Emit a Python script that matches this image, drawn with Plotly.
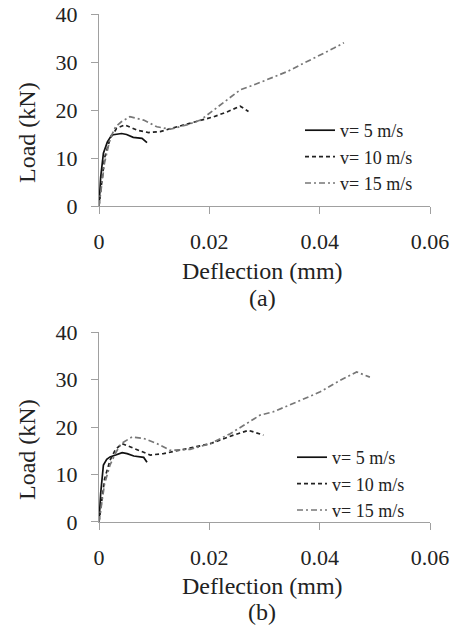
import plotly.graph_objects as go

# ---- Data: panel (a) ----
a_x5 = [0, 0.0003, 0.0008, 0.0015, 0.0023, 0.0032, 0.0041, 0.005, 0.0062, 0.0078, 0.0087]
a_y5 = [0, 6.0, 11.0, 13.3, 14.8, 15.0, 15.1, 14.9, 14.3, 14.1, 13.2]
a_x10 = [0, 0.0005, 0.001, 0.002, 0.0032, 0.0047, 0.0069, 0.009, 0.0111, 0.0132, 0.0159, 0.0184,
         0.0208, 0.0232, 0.0256, 0.0271]
a_y10 = [0, 5.0, 10.0, 14.0, 16.2, 16.9, 15.8, 15.3, 15.5, 16.2, 17.1, 17.8, 18.6, 19.6, 20.8, 19.7]
a_x15 = [0, 0.0005, 0.001, 0.002, 0.003, 0.004, 0.0056, 0.0081, 0.0105, 0.0129, 0.0159, 0.0184,
         0.0208, 0.0232, 0.0256, 0.028, 0.0305, 0.0341, 0.0365, 0.0396, 0.0426, 0.0444]
a_y15 = [0, 4.5, 9.0, 14.0, 16.5, 17.5, 18.6, 17.9, 16.5, 16.0, 16.9, 17.9, 20.0, 22.1, 24.2,
         25.2, 26.4, 28.0, 29.4, 31.1, 32.9, 34.0]

# ---- Data: panel (b) ----
b_x5 = [0, 0.0003, 0.0008, 0.0014, 0.002, 0.0042, 0.0051, 0.0063, 0.0081, 0.0087]
b_y5 = [0, 6.0, 12.0, 13.2, 13.7, 14.6, 14.4, 13.9, 13.6, 12.6]
b_x10 = [0, 0.0005, 0.001, 0.002, 0.003, 0.0042, 0.0063, 0.0093, 0.0117, 0.0147, 0.0184, 0.0202,
         0.0244, 0.0271, 0.0298]
b_y10 = [0, 4.5, 9.0, 13.0, 15.3, 16.5, 15.5, 14.1, 14.4, 15.1, 16.0, 16.5, 18.3, 19.3, 18.3]
b_x15 = [0, 0.0005, 0.001, 0.002, 0.003, 0.004, 0.006, 0.0081, 0.0105, 0.0129, 0.0165, 0.0202,
         0.0238, 0.0292, 0.0316, 0.0365, 0.0401, 0.0437, 0.0467, 0.0491]
b_y15 = [0, 4.0, 8.0, 12.0, 14.5, 16.5, 17.9, 17.6, 16.5, 15.1, 15.3, 16.5, 18.6, 22.5, 23.2,
         25.6, 27.4, 29.8, 31.6, 30.5]

names = ["v= 5 m/s", "v= 10 m/s", "v= 15 m/s"]
x_ticks = [0, 0.02, 0.04, 0.06]
x_ticktext = ["0", "0.02", "0.04", "0.06"]
y_ticks = [0, 10, 20, 30, 40]

SERIF = "Liberation Serif"
styles = [
    dict(color="#111111", width=1.7, dash="solid"),
    dict(color="#222222", width=1.7, dash="4px,3px"),
    dict(color="#777777", width=1.7, dash="6px,3px,2px,3px"),
]

fig = go.Figure()
panels = [
    ("x", "y", "legend", [(a_x5, a_y5), (a_x10, a_y10), (a_x15, a_y15)]),
    ("x2", "y2", "legend2", [(b_x5, b_y5), (b_x10, b_y10), (b_x15, b_y15)]),
]
for xa, ya, lg, series in panels:
    for (xs, ys), nm, st in zip(series, names, styles):
        fig.add_trace(go.Scatter(x=xs, y=ys, mode="lines", name=nm, line=st,
                                 xaxis=xa, yaxis=ya, legend=lg))

axis_common = dict(
    showgrid=False, zeroline=False, showline=True, linecolor="#a0a0a0", linewidth=1,
    ticks="outside", ticklen=7, tickcolor="#a0a0a0", tickwidth=1,
    tickfont=dict(family=SERIF, size=22, color="#222222"),
    ticklabelstandoff=9, automargin=False,
)

leg_font = dict(family=SERIF, size=18, color="#222222")
fig.update_layout(
    width=459, height=626,
    margin=dict(l=99, r=29, t=14, b=104, autoexpand=False),
    paper_bgcolor="white", plot_bgcolor="white",
    xaxis=dict(domain=[0, 1], anchor="y", range=[0, 0.06], tickvals=x_ticks,
               ticktext=x_ticktext, **axis_common),
    yaxis=dict(domain=[0.622, 1], anchor="x", range=[0, 40], tickvals=y_ticks, **axis_common),
    xaxis2=dict(domain=[0, 1], anchor="y2", range=[0, 0.06], tickvals=x_ticks,
                ticktext=x_ticktext, **axis_common),
    yaxis2=dict(domain=[0, 0.374], anchor="x2", range=[0, 40], tickvals=y_ticks, **axis_common),
    legend=dict(x=(300 - 99) / 331, y=(522 - 112) / 508, xanchor="left", yanchor="top",
                bgcolor="rgba(0,0,0,0)", font=leg_font, tracegroupgap=0),
    legend2=dict(x=(292 - 99) / 331, y=(522 - 439) / 508, xanchor="left", yanchor="top",
                 bgcolor="rgba(0,0,0,0)", font=leg_font, tracegroupgap=0),
    showlegend=True,
)

ann_font = dict(family=SERIF, size=24, color="#222222")
anns = [
    dict(text="Load (kN)", x=(27 - 99) / 331, y=(522 - 133) / 508, textangle=-90),
    dict(text="Deflection (mm)", x=(262 - 99) / 331, y=(522 - 271) / 508),
    dict(text="(a)", x=(262 - 99) / 331, y=(522 - 298) / 508),
    dict(text="Load (kN)", x=(27 - 99) / 331, y=(522 - 450) / 508, textangle=-90),
    dict(text="Deflection (mm)", x=(262 - 99) / 331, y=(522 - 586) / 508),
    dict(text="(b)", x=(262 - 99) / 331, y=(522 - 612) / 508),
]
for a in anns:
    fig.add_annotation(xref="paper", yref="paper", showarrow=False, xanchor="center",
                       yanchor="middle", font=ann_font, **a)

fig.write_html("out.html", config={"displayModeBar": False},
               post_script="document.body.style.margin='0';document.body.style.overflow='hidden';")
